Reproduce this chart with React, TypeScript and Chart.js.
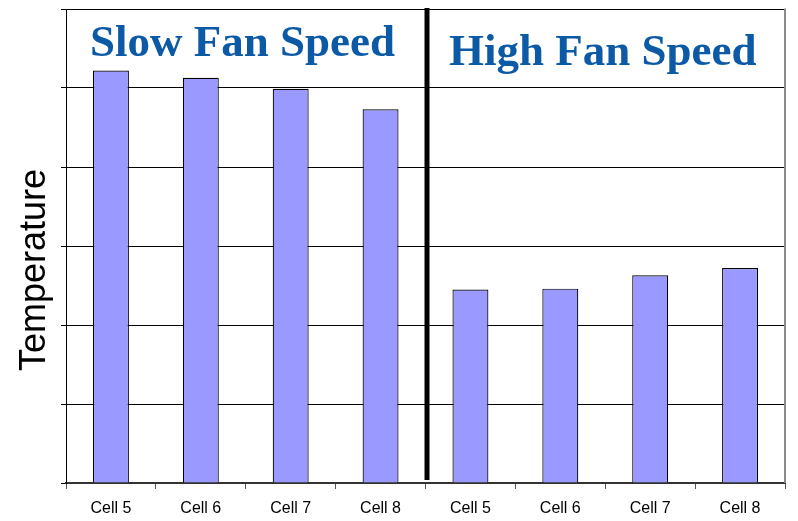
import React, { useEffect, useRef } from "react";
import { Chart, registerables } from "chart.js";

Chart.register(...registerables);

const categories = ["Cell 5", "Cell 6", "Cell 7", "Cell 8", "Cell 5", "Cell 6", "Cell 7", "Cell 8"];
const temperatures = [52.2, 51.3, 49.9, 47.3, 24.5, 24.6, 26.3, 27.2];
const groupTitles = ["Slow Fan Speed", "High Fan Speed"];
const yTitle = "Temperature";
const yMin = 0;
const yMax = 60;
const yStep = 10;

const TITLE_BLUE = "#0C5AA6";

const overlayPlugin = {
  id: "overlay",
  afterDatasetsDraw(chart: any) {
    const { ctx, chartArea, scales } = chart;
    const x = scales.x;
    ctx.save();
    // right gray border
    ctx.strokeStyle = "#8a8a8a";
    ctx.lineWidth = 2;
    ctx.beginPath();
    ctx.moveTo(chartArea.right, chartArea.top - 0.5);
    ctx.lineTo(chartArea.right, chartArea.bottom);
    ctx.stroke();
    // separator
    const sepX = (x.getPixelForValue(3) + x.getPixelForValue(4)) / 2 + 1.5;
    ctx.strokeStyle = "#000";
    ctx.lineWidth = 5;
    ctx.beginPath();
    ctx.moveTo(sepX, chartArea.top - 1);
    ctx.lineTo(sepX, chartArea.bottom - 3);
    ctx.stroke();
    // group titles
    ctx.fillStyle = TITLE_BLUE;
    ctx.font = "bold 45px 'Liberation Serif', 'Times New Roman', serif";
    ctx.textAlign = "left";
    ctx.textBaseline = "alphabetic";
    ctx.fillText(groupTitles[0], chartArea.left + 24, 56);
    ctx.fillText(groupTitles[1], sepX + 22, 65);
    // y title
    ctx.fillStyle = "#000";
    ctx.font = "36px 'Liberation Sans', Arial, sans-serif";
    ctx.translate(45, (chartArea.top + chartArea.bottom) / 2 + 24);
    ctx.rotate(-Math.PI / 2);
    ctx.textAlign = "center";
    ctx.fillText(yTitle, 0, 0);
    ctx.restore();
  },
};

export default function App() {
  const ref = useRef<HTMLCanvasElement | null>(null);
  useEffect(() => {
    if (!ref.current) return;
    const chart = new Chart(ref.current, {
      type: "bar",
      data: {
        labels: categories,
        datasets: [
          {
            data: temperatures,
            backgroundColor: "#9999FF",
            borderColor: "#000000",
            borderWidth: 1.2,
            barPercentage: 0.4,
            categoryPercentage: 1.0,
          },
        ],
      },
      options: {
        responsive: false,
        animation: false,
        events: [],
        layout: { padding: { left: 61, right: 13, top: 9, bottom: 0 } },
        plugins: { legend: { display: false }, tooltip: { enabled: false }, title: { display: false } },
        scales: {
          x: {
            afterFit(scale: any) {
              scale.height = 38;
            },
            grid: { offset: true, drawOnChartArea: false, drawTicks: true, tickLength: 6, color: "#555" },
            border: { display: true, color: "#333", width: 2 },
            ticks: {
              color: "#000",
              font: { family: "'Liberation Sans', Arial, sans-serif", size: 16 },
              padding: 10,
              maxRotation: 0,
              autoSkip: false,
            },
          },
          y: {
            min: yMin,
            max: yMax,
            grid: { color: "#000", lineWidth: 1, drawTicks: true, tickLength: 5 },
            border: { display: true, color: "#000", width: 1 },
            ticks: { display: false, stepSize: yStep },
          },
        },
      },
      plugins: [overlayPlugin],
    });
    return () => chart.destroy();
  }, []);
  return (
    <div style={{ position: "absolute", left: 0, top: 0, width: 798, height: 521, background: "#fff" }}>
      <canvas ref={ref} width={798} height={521} style={{ display: "block" }} />
    </div>
  );
}
